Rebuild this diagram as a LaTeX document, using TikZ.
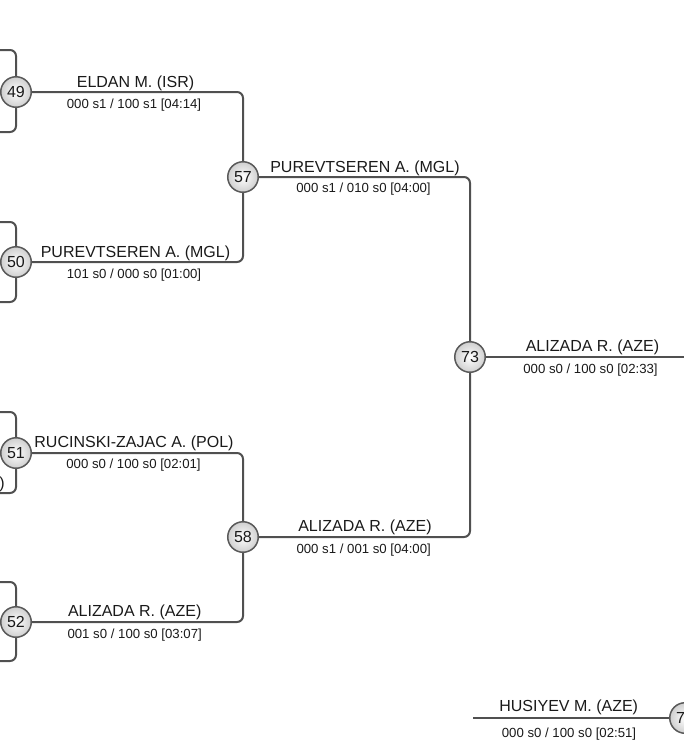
\documentclass[tikz,border=0pt]{standalone}
\usepackage{fontspec}
\setmainfont{Liberation Sans}
\definecolor{linec}{HTML}{505050}
\definecolor{circc}{HTML}{5A5A5A}
\definecolor{txtc}{HTML}{1A1A1A}
\definecolor{fillb}{HTML}{CFCFCF}
\begin{document}
\begin{tikzpicture}[x=1pt,y=-1pt,
 conn/.style={draw=linec, line width=2pt, rounded corners=6pt},
 mnode/.style={circle, draw=circc, line width=1.5pt, inner sep=0pt, minimum size=30.5pt, inner color=white, outer color=fillb, text=txtc, font=\fontsize{16}{16}\selectfont},
 pname/.style={anchor=base, inner sep=0pt, text=txtc, font=\fontsize{16}{16}\selectfont},
 pscore/.style={anchor=base, inner sep=0pt, text=txtc, font=\fontsize{13.2}{13.2}\selectfont}]
\useasboundingbox (0,0) rectangle (684,740);
\clip (0,0) rectangle (684,740);
% coordinates of free ends
\coordinate (l49a) at (-5,50);
\coordinate (l49b) at (-5,132);
\coordinate (l50a) at (-5,222);
\coordinate (l50b) at (-5,302);
\coordinate (l51a) at (-5,412);
\coordinate (l51b) at (-5,493);
\coordinate (l52a) at (-5,582);
\coordinate (l52b) at (-5,661);
\coordinate (e73) at (700,357);
\coordinate (s7x) at (473,718);
% match nodes
\node[mnode] (m49) at (16,92) {49};
\node[mnode] (m50) at (16,262) {50};
\node[mnode] (m51) at (16,453) {51};
\node[mnode] (m52) at (16,622) {52};
\node[mnode] (m57) at (243,177) {57};
\node[mnode] (m58) at (243,537) {58};
\node[mnode] (m73) at (470,357) {73};
\node[mnode] (m7x) at (685,718) {};
\node[inner sep=0pt, text=txtc, font=\fontsize{16}{16}\selectfont] (m7xnum) at (680.5,718) {7};
% connectors
\draw[conn] (l49a) -| (m49);
\draw[conn] (l49b) -| (m49);
\draw[conn] (l50a) -| (m50);
\draw[conn] (l50b) -| (m50);
\draw[conn] (l51a) -| (m51);
\draw[conn] (l51b) -| (m51);
\draw[conn] (l52a) -| (m52);
\draw[conn] (l52b) -| (m52);
\draw[conn] (m49) -| (m57);
\draw[conn] (m50) -| (m57);
\draw[conn] (m51) -| (m58);
\draw[conn] (m52) -| (m58);
\draw[conn] (m57) -| (m73);
\draw[conn] (m58) -| (m73);
\draw[conn] (m73) -- (e73);
\draw[conn] (s7x) -- (m7x);
% labels
\node[pname] (n49) at (135.5,87) {ELDAN M. (ISR)};
\node[pscore] (s49) at (134,108.3) {000 s1 / 100 s1 [04:14]};
\node[pname] (n50) at (135.5,257) {PUREVTSEREN A. (MGL)};
\node[pscore] (s50) at (134,278.3) {101 s0 / 000 s0 [01:00]};
\node[pname] (n51) at (134,447) {RUCINSKI-ZAJAC A. (POL)};
\node[pscore] (s51) at (133.5,468.3) {000 s0 / 100 s0 [02:01]};
\node[pname] (n52) at (134.7,616.7) {ALIZADA R. (AZE)};
\node[pscore] (s52) at (134.7,638.3) {001 s0 / 100 s0 [03:07]};
\node[pname] (n57) at (365,172) {PUREVTSEREN A. (MGL)};
\node[pscore] (s57) at (363.5,192.5) {000 s1 / 010 s0 [04:00]};
\node[pname] (n58) at (365,531.7) {ALIZADA R. (AZE)};
\node[pscore] (s58) at (363.7,553) {000 s1 / 001 s0 [04:00]};
\node[pname] (n73) at (592.5,351.7) {ALIZADA R. (AZE)};
\node[pscore] (s73) at (590.5,373.3) {000 s0 / 100 s0 [02:33]};
\node[pname] (nb) at (568.7,711.7) {HUSIYEV M. (AZE)};
\node[pscore] (sb) at (569,737.3) {000 s0 / 100 s0 [02:51]};
\node[pname, anchor=base east] (nlost) at (5,488) {)};
\end{tikzpicture}
\end{document}
